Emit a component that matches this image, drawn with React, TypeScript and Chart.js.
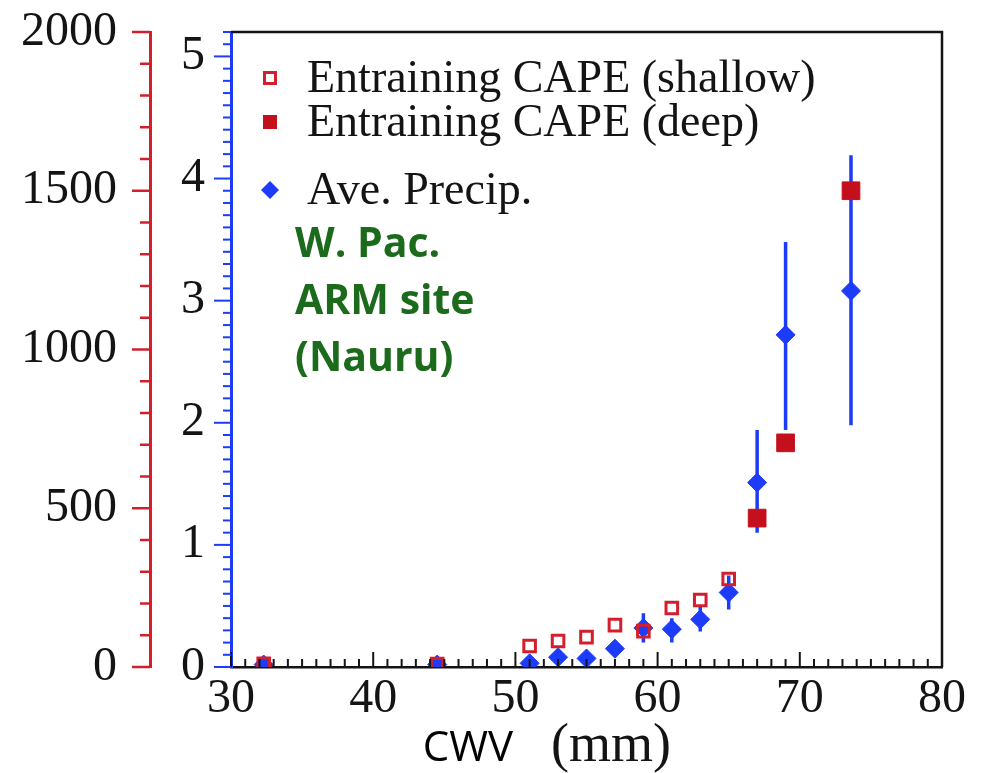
import React, { useEffect, useRef } from 'react';
import { Chart, registerables } from 'chart.js';

Chart.register(...registerables);

// Column water vapour bins (mm) and entraining CAPE (J/kg)
const cwvShallow = [32.3, 44.5, 51, 53, 55, 57, 59, 61, 63, 65];
const capeShallow = [10, 9, 66, 82, 94, 132, 113, 186, 211, 277];
const cwvDeep = [67, 69, 73.6];
const capeDeep = [469, 706, 1500];

// Average precipitation (mm/h) with error-bar bounds
const cwvPrecip = [32.3, 44.5, 51, 53, 55, 57, 59, 61, 63, 65, 67, 69, 73.6];
const precipMean = [0.02, 0.02, 0.03, 0.08, 0.07, 0.15, 0.32, 0.31, 0.39, 0.61, 1.51, 2.72, 3.08];
const precipLow = [0.01, 0.01, 0.01, 0.05, 0.04, 0.11, 0.2, 0.2, 0.29, 0.47, 1.1, 1.94, 1.98];
const precipHigh = [0.03, 0.03, 0.05, 0.11, 0.1, 0.19, 0.44, 0.4, 0.5, 0.75, 1.94, 3.48, 4.19];

const cwvTicks = [30, 40, 50, 60, 70, 80];
const capeTicks = [0, 500, 1000, 1500, 2000];
const precipTicks = [0, 1, 2, 3, 4, 5];

const legendLabels = ['Entraining CAPE (shallow)', 'Entraining CAPE (deep)', 'Ave. Precip.'];
const siteLines = ['W. Pac.', 'ARM site', '(Nauru)'];
const xTitleSans = 'CWV';
const xTitleSerif = '(mm)';

const RED = '#d21f2b';
const RED_FILL = '#c4101c';
const BLUE = '#1c3cfa';
const GREEN = '#1c6b1c';
const INK = '#141414';
const SERIF = '"Liberation Serif", "Times New Roman", serif';
const SANS = '"Open Sans", "Liberation Sans", sans-serif';

const line = (ctx: CanvasRenderingContext2D, x1: number, y1: number, x2: number, y2: number) => {
  ctx.beginPath();
  ctx.moveTo(x1, y1);
  ctx.lineTo(x2, y2);
  ctx.stroke();
};

const decorPlugin = {
  id: 'decor',
  beforeDraw(chart: any) {
    const { ctx, width, height } = chart;
    ctx.save();
    ctx.fillStyle = '#ffffff';
    ctx.fillRect(0, 0, width, height);
    ctx.restore();
  },
  afterDraw(chart: any) {
    const { ctx, chartArea: a, scales } = chart;
    const x = scales.x;
    const yc = scales.yCape;
    const yp = scales.yPrecip;
    ctx.save();

    // frame on top and right
    ctx.strokeStyle = INK;
    ctx.lineWidth = 2.5;
    ctx.beginPath();
    ctx.moveTo(a.left, a.top);
    ctx.lineTo(a.right, a.top);
    ctx.lineTo(a.right, a.bottom);
    ctx.stroke();

    // x ticks pointing into the plot, minor every 1 mm
    ctx.lineWidth = 2;
    for (let v = x.min; v <= x.max; v += 1) {
      const px = x.getPixelForValue(v);
      const len = v % 10 === 0 ? 15 : 8;
      line(ctx, px, a.bottom, px, a.bottom - len);
    }

    // CAPE axis ticks, minor every 100
    ctx.strokeStyle = RED;
    ctx.lineWidth = 2.5;
    for (let v = 0; v <= yc.max; v += 100) {
      const py = yc.getPixelForValue(v);
      const len = v % 500 === 0 ? 18 : 10;
      line(ctx, yc.right, py, yc.right - len, py);
    }

    // precipitation axis ticks, minor every 0.1
    ctx.strokeStyle = BLUE;
    ctx.lineWidth = 2;
    for (let i = 0; i / 10 <= yp.max; i += 1) {
      const py = yp.getPixelForValue(i / 10);
      const len = i % 10 === 0 ? 17 : 8;
      line(ctx, yp.right, py, yp.right - len, py);
    }

    // legend
    const lx = a.left + 39;
    const tx = a.left + 76;
    const rows = [a.top + 46, a.top + 90, a.top + 158];
    ctx.lineWidth = 3;
    ctx.strokeStyle = RED;
    ctx.strokeRect(lx - 5.5, rows[0] - 5.5, 11, 11);
    ctx.fillStyle = RED_FILL;
    ctx.fillRect(lx - 7, rows[1] - 7, 14, 14);
    ctx.fillStyle = BLUE;
    ctx.beginPath();
    ctx.moveTo(lx - 9, rows[2]);
    ctx.lineTo(lx, rows[2] - 9);
    ctx.lineTo(lx + 9, rows[2]);
    ctx.lineTo(lx, rows[2] + 9);
    ctx.closePath();
    ctx.fill();
    ctx.fillStyle = INK;
    ctx.font = `46px ${SERIF}`;
    ctx.textAlign = 'left';
    ctx.textBaseline = 'middle';
    legendLabels.forEach((t, i) => ctx.fillText(t, tx, rows[i] + 2));

    // site annotation
    ctx.fillStyle = GREEN;
    ctx.font = `bold 41px ${SANS}`;
    siteLines.forEach((t, i) => ctx.fillText(t, a.left + 64, a.top + 213 + i * 57));

    // x-axis title
    ctx.fillStyle = '#000';
    ctx.textAlign = 'center';
    ctx.font = `42px ${SANS}`;
    ctx.fillText(xTitleSans, 468, 749);
    ctx.fillStyle = INK;
    ctx.font = `54px ${SERIF}`;
    ctx.fillText(xTitleSerif, 611, 747);

    ctx.restore();
  },
};

const plain = (v: any) => String(v);

export default function App() {
  const canvasRef = useRef<HTMLCanvasElement | null>(null);

  useEffect(() => {
    const canvas = canvasRef.current;
    if (!canvas) return;

    const errorBars: any[] = [];
    cwvPrecip.forEach((cx, i) => {
      errorBars.push({ x: cx, y: precipLow[i] });
      errorBars.push({ x: cx, y: precipHigh[i] });
      errorBars.push({ x: cx, y: null });
    });

    const tickFont = { family: SERIF, size: 48, lineHeight: 1 };

    const chart = new Chart(canvas, {
      type: 'scatter',
      data: {
        datasets: [
          {
            label: legendLabels[0],
            data: cwvShallow.map((cx, i) => ({ x: cx, y: capeShallow[i] })),
            yAxisID: 'yCape',
            pointStyle: 'rect',
            pointRadius: 8.2,
            backgroundColor: 'rgba(255,255,255,0)',
            borderColor: RED,
            borderWidth: 3,
            clip: 0,
          } as any,
          {
            label: legendLabels[1],
            data: cwvDeep.map((cx, i) => ({ x: cx, y: capeDeep[i] })),
            yAxisID: 'yCape',
            pointStyle: 'rect',
            pointRadius: 12.5,
            backgroundColor: RED_FILL,
            borderColor: RED_FILL,
            borderWidth: 1,
            clip: 0,
          },
          {
            label: legendLabels[2],
            data: cwvPrecip.map((cx, i) => ({ x: cx, y: precipMean[i] })),
            yAxisID: 'yPrecip',
            pointStyle: 'rectRot',
            pointRadius: 9.5,
            backgroundColor: BLUE,
            borderColor: BLUE,
            borderWidth: 1,
            clip: 0,
          },
          {
            type: 'line',
            label: 'error',
            data: errorBars,
            yAxisID: 'yPrecip',
            borderColor: BLUE,
            borderWidth: 3.5,
            pointRadius: 0,
            spanGaps: false,
            fill: false,
            clip: 0,
          } as any,
        ],
      },
      options: {
        animation: false,
        responsive: false,
        events: [],
        layout: { padding: { left: 0, right: 42, top: 32, bottom: 0 } },
        plugins: { legend: { display: false }, tooltip: { enabled: false } },
        scales: {
          x: {
            type: 'linear',
            position: 'bottom',
            min: 30,
            max: 80,
            afterBuildTicks: (s: any) => {
              s.ticks = cwvTicks.map((v) => ({ value: v }));
            },
            afterFit: (s: any) => {
              s.height = 106;
              s.paddingLeft = 0;
              s.paddingRight = 0;
            },
            grid: { display: false },
            border: { display: true, color: INK, width: 2.5 },
            ticks: { font: tickFont, color: INK, padding: 0, maxRotation: 0, autoSkip: false, callback: plain },
          },
          yCape: {
            type: 'linear',
            position: 'left',
            weight: 1,
            min: 0,
            max: 2000,
            afterBuildTicks: (s: any) => {
              s.ticks = capeTicks.map((v) => ({ value: v }));
            },
            afterFit: (s: any) => {
              s.width = 150;
              s.paddingTop = 0;
              s.paddingBottom = 0;
            },
            grid: { display: false },
            border: { display: true, color: RED, width: 3 },
            ticks: { font: tickFont, color: INK, padding: 25, callback: plain },
          },
          yPrecip: {
            type: 'linear',
            position: 'left',
            weight: 0,
            min: 0,
            max: 5.2,
            afterBuildTicks: (s: any) => {
              s.ticks = precipTicks.map((v) => ({ value: v }));
            },
            afterFit: (s: any) => {
              s.width = 81;
              s.paddingTop = 0;
              s.paddingBottom = 0;
            },
            grid: { display: false },
            border: { display: true, color: BLUE, width: 3 },
            ticks: { font: tickFont, color: INK, padding: 18, callback: plain },
          },
        },
      } as any,
      plugins: [decorPlugin],
    });

    return () => chart.destroy();
  }, []);

  return (
    <div style={{ position: 'fixed', left: 0, top: 0, width: 984, height: 773, background: '#fff' }}>
      <canvas ref={canvasRef} width={984} height={773} style={{ display: 'block' }} />
    </div>
  );
}
